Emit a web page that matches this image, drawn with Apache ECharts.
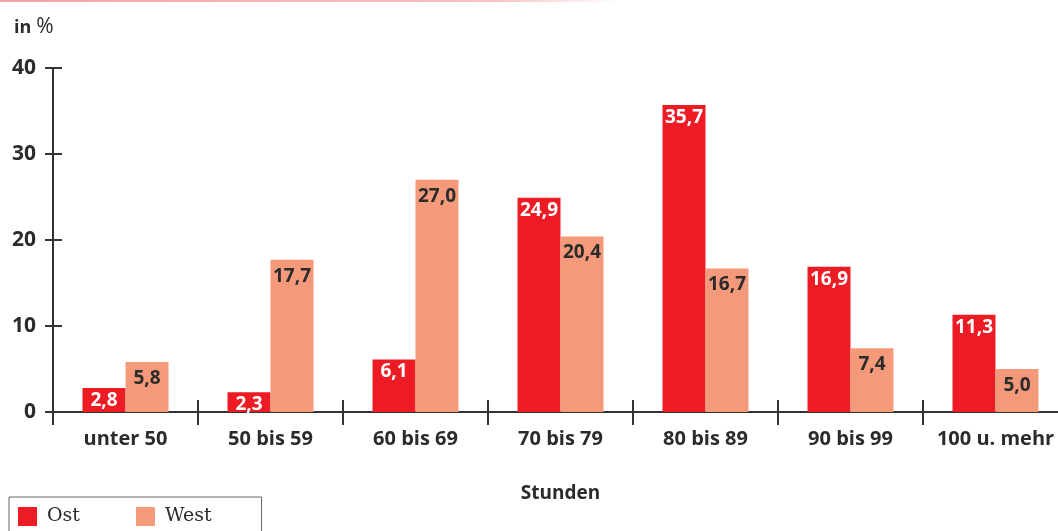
<!DOCTYPE html>
<html>
<head>
<meta charset="utf-8">
<script src="https://cdn.jsdelivr.net/npm/echarts@6/dist/echarts.min.js"></script>
<style>
    html, body { margin: 0; padding: 0; background: #fff; }
    #chart { width: 1058px; height: 531px; }
</style>
</head>
<body>
<div id="chart"></div>
<script>
    // Daten
    var categories = ['unter 50', '50 bis 59', '60 bis 69', '70 bis 79', '80 bis 89', '90 bis 99', '100 u. mehr'];
    var ostValues = [2.8, 2.3, 6.1, 24.9, 35.7, 16.9, 11.3];
    var westValues = [5.8, 17.7, 27.0, 20.4, 16.7, 7.4, 5.0];
    var yTicks = [0, 10, 20, 30, 40];

    var font = '"Open Sans", "DejaVu Sans", sans-serif';
    var dark = '#2b2b2b';

    function fmt(p) {
        return p.value.toFixed(1).replace('.', ',');
    }

    var chart = echarts.init(document.getElementById('chart'));
    var option = {
        animation: false,
        backgroundColor: '#fff',
        title: {
            left: 9,
            top: 12,
            text: '{b|in} {r|%}',
            textStyle: {
                rich: {
                    b: { fontFamily: font, fontWeight: 'bold', fontSize: 18, color: dark },
                    r: { fontFamily: font, fontWeight: 'normal', fontSize: 21, color: dark }
                }
            }
        },
        graphic: [{
            type: 'rect',
            shape: { x: 0, y: 0, width: 620, height: 2 },
            style: {
                fill: new echarts.graphic.LinearGradient(0, 0, 1, 0, [
                    { offset: 0, color: '#f6a3a3' },
                    { offset: 0.8, color: '#f9c2c2' },
                    { offset: 1, color: '#ffffff' }
                ])
            }
        }],
        legend: {
            left: 9,
            top: 497,
            orient: 'horizontal',
            icon: 'rect',
            itemWidth: 19,
            itemHeight: 19,
            itemGap: 56,
            padding: [10, 50, 20, 9],
            borderColor: '#666',
            borderWidth: 1,
            textStyle: {
                fontFamily: '"DejaVu Serif", "Liberation Serif", serif',
                fontSize: 19,
                color: dark,
                padding: [0, 0, 0, 5]
            },
            data: ['Ost', 'West']
        },
        grid: {
            left: 53,
            width: 1015,
            top: 68,
            bottom: 119,
            outerBoundsMode: 'none'
        },
        xAxis: [{
            type: 'category',
            data: categories,
            name: 'Stunden',
            nameLocation: 'middle',
            nameGap: 72,
            nameTextStyle: { fontFamily: font, fontWeight: 'bold', fontSize: 19, color: dark },
            axisLine: { lineStyle: { color: '#333', width: 2 } },
            axisTick: { show: true, length: 13, lineStyle: { color: '#333', width: 2 } },
            axisLabel: { fontFamily: font, fontWeight: 'bold', fontSize: 20, color: dark, margin: 17, interval: 0 }
        }, {
            // obere Tickhälfte
            type: 'category',
            data: categories,
            position: 'top',
            offset: -344,
            axisLine: { show: false },
            axisTick: { show: true, length: 12, lineStyle: { color: '#333', width: 2 } },
            axisLabel: { show: false }
        }],
        yAxis: [{
            type: 'value',
            min: yTicks[0],
            max: yTicks[yTicks.length - 1],
            interval: 10,
            splitLine: { show: false },
            axisLine: { show: true, lineStyle: { color: '#333', width: 2 } },
            axisTick: { show: true, length: 8, lineStyle: { color: '#333', width: 2 } },
            axisLabel: { fontFamily: font, fontWeight: 'bold', fontSize: 21, color: dark, margin: 17 }
        }, {
            type: 'value',
            position: 'right',
            offset: -1015,
            min: yTicks[0],
            max: yTicks[yTicks.length - 1],
            interval: 10,
            splitLine: { show: false },
            axisLine: { show: false },
            axisTick: { show: true, length: 9, lineStyle: { color: '#333', width: 2 } },
            axisLabel: { show: false }
        }],
        series: [{
            name: 'Ost',
            type: 'bar',
            data: ostValues,
            barWidth: 43,
            barGap: '0%',
            itemStyle: { color: '#ed1c24' },
            label: {
                show: true,
                position: 'insideTop',
                distance: 3,
                formatter: fmt,
                fontFamily: font,
                fontWeight: 'bold',
                fontSize: 19,
                color: '#fff'
            }
        }, {
            name: 'West',
            type: 'bar',
            data: westValues,
            barWidth: 43,
            barGap: '0%',
            itemStyle: { color: '#f49a7a' },
            label: {
                show: true,
                position: 'insideTop',
                distance: 7,
                formatter: fmt,
                fontFamily: font,
                fontWeight: 'bold',
                fontSize: 19,
                color: dark
            }
        }]
    };
    chart.setOption(option);
</script>
</body>
</html>
